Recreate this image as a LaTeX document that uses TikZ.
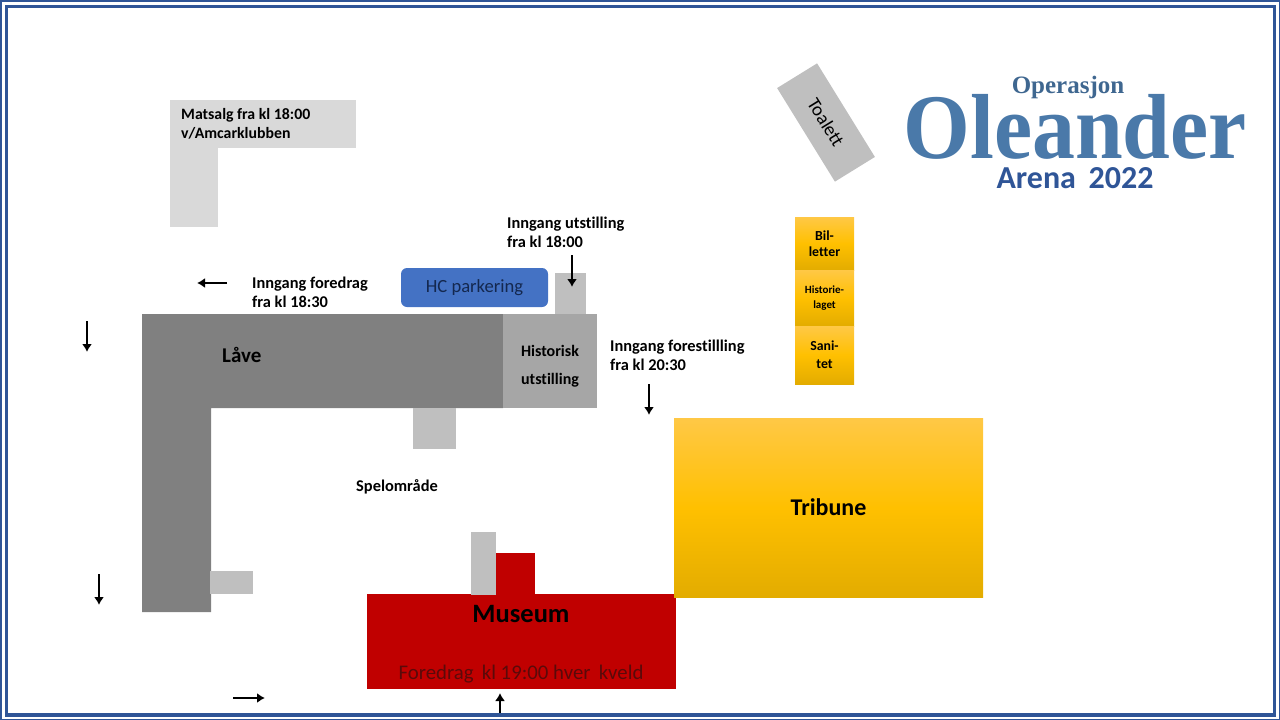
\documentclass[tikz,border=0pt]{standalone}
\usepackage{fontspec}
\setmainfont{Carlito}[Ligatures=NoCommon]
\newfontfamily\logofont{Liberation Serif}
\usetikzlibrary{arrows.meta}
\definecolor{rimblue}{HTML}{2F5597}
\definecolor{logoblue}{HTML}{4A79A9}
\definecolor{hcblue}{HTML}{4472C4}
\definecolor{hctext}{HTML}{14284F}
\definecolor{museumred}{HTML}{C00000}
\definecolor{foretext}{HTML}{5A0A0A}
\definecolor{goldtop}{HTML}{FFC846}
\definecolor{goldmid}{HTML}{FFC000}
\definecolor{goldlow}{HTML}{E3AC00}
\tikzset{
  plot/.style={rectangle,inner sep=0pt,outer sep=0pt},
  lbl/.style={align=left,anchor=west,inner sep=0pt,font=\fontsize{16.4}{19}\selectfont\bfseries},
  goldbox/.style={plot,top color=goldtop,bottom color=goldlow,middle color=goldmid,align=center},
  walkway/.style={-{Latex[length=8pt,width=10pt]},line width=2.7pt,black}
}
\begin{document}
\begin{tikzpicture}[x=1pt,y=-1pt]
\useasboundingbox (0,0) rectangle (1280,720);
\draw[rimblue,line width=1.5pt] (1,1) rectangle (1279.3,719.3);
\draw[rimblue,line width=3.5pt] (6.5,6.5) rectangle (1274.7,714.8);
% buildings
\path[fill=black!50] (142,314)--(503,314)--(503,408)--(211,408)--(211,612)--(142,612)--cycle;
\node(lave)[lbl] at (222,355){\fontsize{21}{22}\selectfont Låve};
\node(hist)[plot,fill=black!35,minimum width=94pt,minimum height=94pt] at (550,361){};
\node(histlbl)[plot,align=center,font=\fontsize{16}{28}\selectfont\bfseries] at (550,366){Historisk\\utstilling};
\node(door1)[plot,fill=black!25,minimum width=31pt,minimum height=41pt] at (570.5,293.5){};
\node(door2)[plot,fill=black!25,minimum width=43pt,minimum height=41pt] at (434.5,428.5){};
\node(door3)[plot,fill=black!25,minimum width=43pt,minimum height=23pt] at (231.5,582.5){};
\node(mat1)[plot,fill=black!15,minimum width=186pt,minimum height=48pt] at (263,124){};
\node(mat2)[plot,fill=black!15,minimum width=48pt,minimum height=79pt] at (194,187.5){};
\node(matlbl)[lbl,font=\fontsize{15.8}{19}\selectfont\bfseries] at (181,124){Matsalg fra kl 18:00\\v/Amcarklubben};
\node(hc)[plot,fill=hcblue,rounded corners=6pt,minimum width=147pt,minimum height=39pt,text=hctext,font=\fontsize{18.6}{20}\selectfont] at (474.5,287.5){HC parkering};
\node(museumtab)[plot,fill=museumred,minimum width=39pt,minimum height=42pt] at (515.5,574){};
\node(museum)[plot,fill=museumred,minimum width=309pt,minimum height=95pt] at (521.5,641.5){};
\node(door4)[plot,fill=black!25,minimum width=25pt,minimum height=63pt] at (483.5,563.5){};
\node(museumlbl)[plot,font=\fontsize{26.5}{28}\selectfont\bfseries] at (521,614){Museum};
\node(foredrag)[plot,text=foretext,font=\fontsize{20.8}{22}\selectfont] at (521,674){Foredrag\, kl 19:00 hver\, kveld};
\node(tribune)[goldbox,minimum width=309pt,minimum height=179pt,font=\fontsize{24}{26}\selectfont\bfseries] at (828.5,507.5){Tribune};
\node(bil)[goldbox,minimum width=59pt,minimum height=53pt,font=\fontsize{13.8}{16}\selectfont\bfseries] at (824.5,243.5){Bil-\\letter};
\node(histlag)[goldbox,minimum width=59pt,minimum height=56pt,font=\fontsize{11}{15}\selectfont\bfseries] at (824.5,298){Historie-\\laget};
\node(sani)[goldbox,minimum width=59pt,minimum height=58pt,font=\fontsize{13.8}{18}\selectfont\bfseries] at (824.5,355){Sani-\\tet};
\node(toalett)[plot,fill=black!25,minimum width=110pt,minimum height=47pt,rotate=-58.3,font=\fontsize{19}{20}\selectfont] at (826,122.5){Toalett};
% labels
\node(spel)[lbl] at (356,487){Spelområde};
\node(inn1)[lbl] at (252,292){Inngang foredrag\\fra kl 18:30};
\node(inn2)[lbl] at (507,232){Inngang utstilling\\fra kl 18:00};
\node(inn3)[lbl] at (610,355){Inngang forestillling\\fra kl 20:30};
% logo
\node(op)[plot,text=logoblue!85!black,font=\fontsize{25}{26}\selectfont\logofont\bfseries] at (1068,87){Operasjon};
\node(ole)[plot,text=logoblue,xscale=.975,yscale=1.05,font=\fontsize{88}{90}\selectfont\logofont\bfseries] at (1075,127){Oleander};
\node(arena)[plot,text=rimblue,font=\fontsize{32}{33}\selectfont\bfseries] at (1075,178){Arena\, 2022};
% arrows
\foreach \n/\xa/\ya/\xb/\yb in {a/227/283/197/283,b/87/321/87/352,c/572/255/572/287,d/649/384/649/415,e/99/574/99/605,f/233/698/265/698,g/500/713/500/693}{
  \coordinate(\n1) at (\xa,\ya);
  \coordinate(\n2) at (\xb,\yb);
  \draw[walkway](\n1)--(\n2);
}
\end{tikzpicture}
\end{document}
